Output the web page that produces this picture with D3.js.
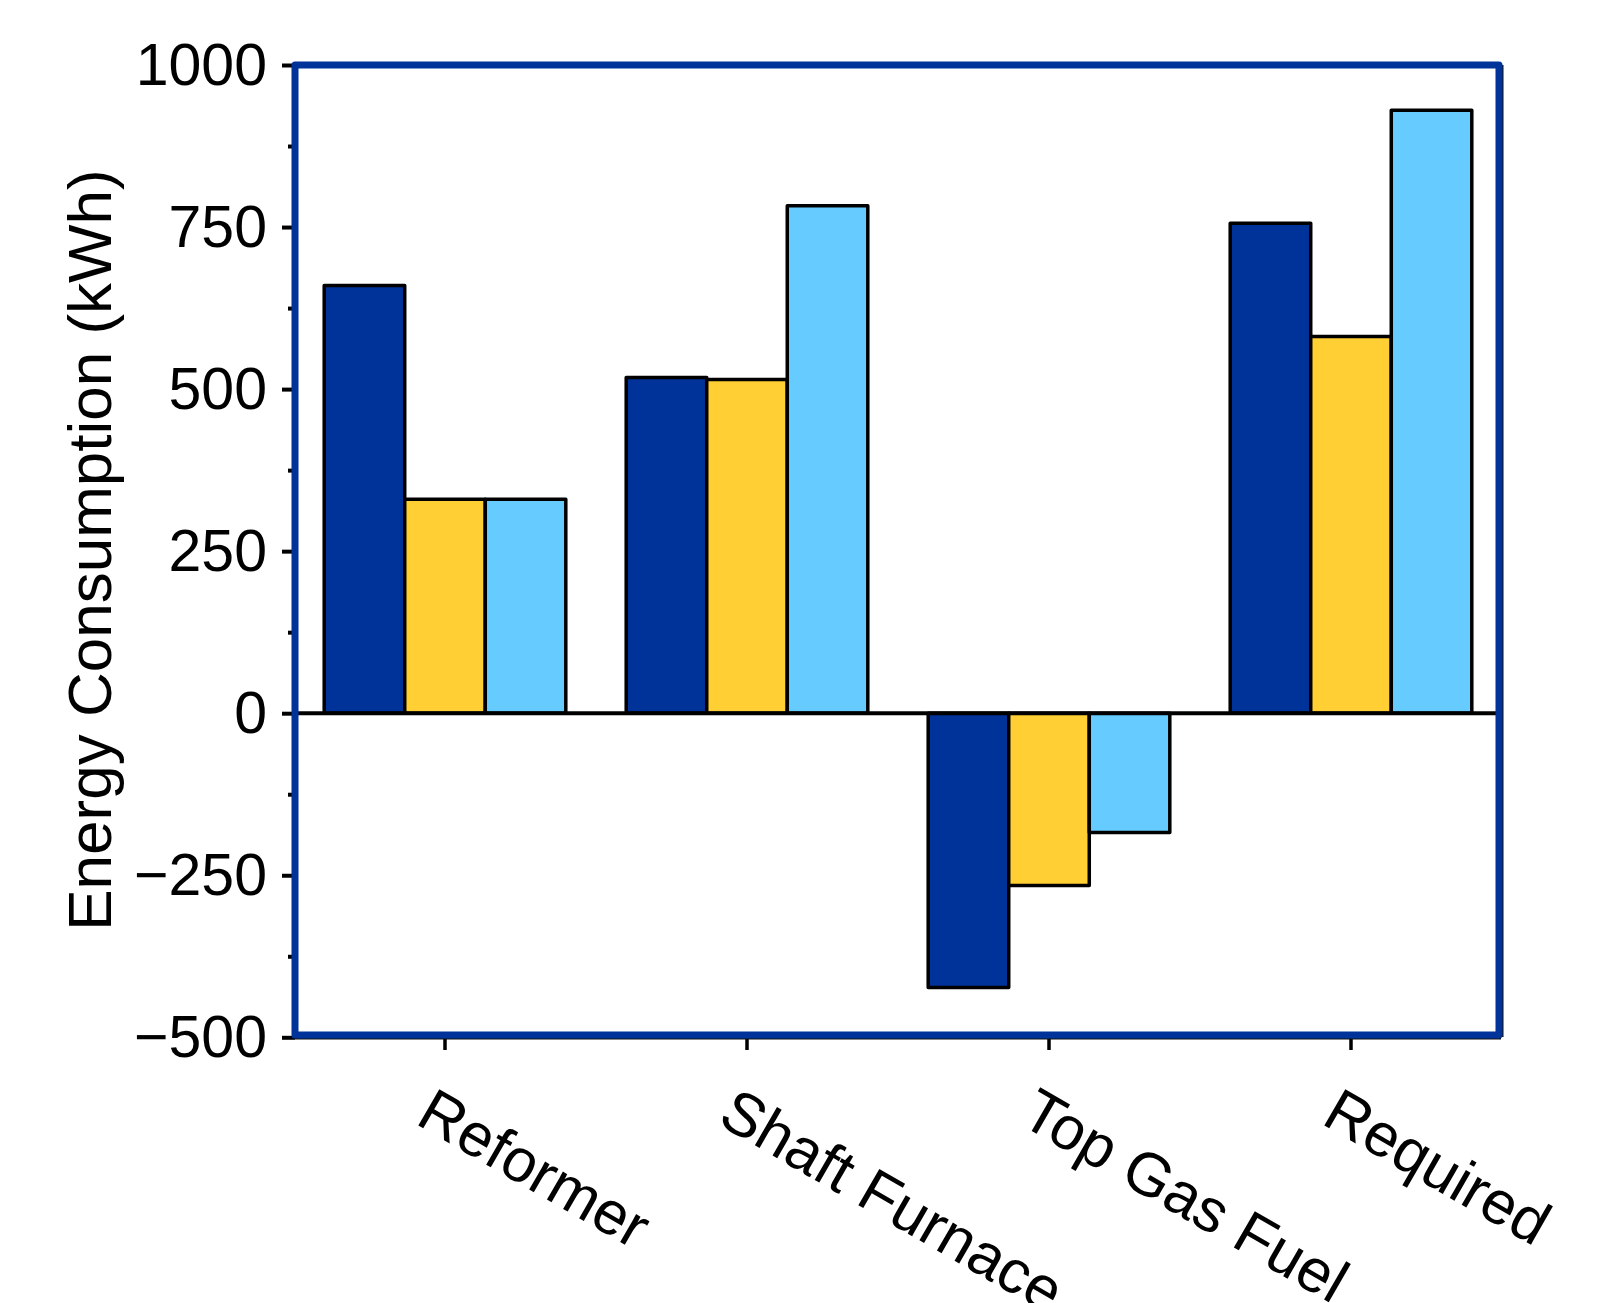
<!DOCTYPE html>
<html>
<head>
<meta charset="utf-8">
<script src="https://cdn.jsdelivr.net/npm/d3@7"></script>
<style>
  html, body { margin: 0; padding: 0; background: #fff; }
  svg { display: block; }
  text { font-family: "Liberation Sans", Arial, sans-serif; fill: #000; }
</style>
</head>
<body>
<svg id="chart" width="1609" height="1303"></svg>
<script>
const categories = ["Reformer", "Shaft Furnace", "Top Gas Fuel", "Required"];
const seriesNames = ["Case 1", "Case 2", "Case 3"];
const seriesColors = ["#003399", "#FFCF33", "#66CCFF"];
const case1 = [660, 518, -423, 756];
const case2 = [330, 515, -266, 581];
const case3 = [330, 783, -184, 930];
const majorTicks = [-500, -250, 0, 250, 500, 750, 1000];
const minorTicks = [-375, -125, 125, 375, 625, 875];
const yLabel = "Energy Consumption (kWh)";

(function () {
const series = [case1, case2, case3];

const svg = d3.select("#chart");
const pLeft = 295, pRight = 1499, pTop = 65, pBottom = 1035;

const y = d3.scaleLinear().domain([-500, 1000]).range([1037.3, 65]);
const x = d3.scaleBand().domain(categories).range([294, 1502]).paddingInner(0.2).paddingOuter(0.1);
const xs = d3.scaleBand().domain(d3.range(series.length)).range([0, x.bandwidth()]).padding(0);

// y ticks (major, minor)
const yAxisMajor = d3.axisLeft(y).tickValues(majorTicks).tickSize(13).tickPadding(15)
  .tickFormat(d3.format("d"));
const gy = svg.append("g").attr("transform", `translate(${pLeft},0)`).call(yAxisMajor);
gy.select(".domain").remove();
gy.selectAll(".tick line").attr("stroke", "#000").attr("stroke-width", 4);
gy.selectAll(".tick text").attr("font-size", 59).attr("dy", "0.33em")
  .style("font-family", '"Liberation Sans", Arial, sans-serif');

const yAxisMinor = d3.axisLeft(y).tickValues(minorTicks).tickSize(7).tickFormat("");
const gym = svg.append("g").attr("transform", `translate(${pLeft},0)`).call(yAxisMinor);
gym.select(".domain").remove();
gym.selectAll(".tick line").attr("stroke", "#000").attr("stroke-width", 4);

// x ticks
const xAxis = d3.axisBottom(x).tickSize(15).tickFormat("");
const gx = svg.append("g").attr("transform", `translate(0,${pBottom})`).call(xAxis);
gx.select(".domain").remove();
gx.selectAll(".tick line").attr("stroke", "#000").attr("stroke-width", 3.5);

// x labels rotated
svg.append("g").selectAll("text").data(categories).join("text")
  .attr("transform", d => `translate(${x(d) + x.bandwidth() / 2 - 31},1123) rotate(30)`)
  .attr("text-anchor", "start")
  .attr("font-size", 61)
  .text(d => d);

// y label
svg.append("text")
  .attr("transform", `translate(111,${(pTop + pBottom) / 2}) rotate(-90)`)
  .attr("text-anchor", "middle")
  .attr("font-size", 62)
  .text(yLabel);

// bars
const groups = svg.append("g").selectAll("g").data(categories).join("g")
  .attr("transform", d => `translate(${x(d)},0)`);
groups.selectAll("rect").data((d, i) => series.map((s, k) => ({ k, v: s[i] }))).join("rect")
  .attr("x", d => xs(d.k))
  .attr("width", xs.bandwidth())
  .attr("y", d => y(Math.max(0, d.v)))
  .attr("height", d => Math.abs(y(d.v) - y(0)))
  .attr("fill", d => seriesColors[d.k])
  .attr("stroke", "#000")
  .attr("stroke-width", 3.5)
  .attr("stroke-linejoin", "round");

// zero line
svg.append("line")
  .attr("x1", pLeft).attr("x2", pRight)
  .attr("y1", y(0)).attr("y2", y(0))
  .attr("stroke", "#000").attr("stroke-width", 4);

// black edges under frame (bottom and right)
svg.append("line").attr("x1", pLeft).attr("x2", pRight + 2)
  .attr("y1", pBottom + 2).attr("y2", pBottom + 2)
  .attr("stroke", "#111").attr("stroke-width", 5);
svg.append("line").attr("x1", pRight + 2).attr("x2", pRight + 2)
  .attr("y1", pTop).attr("y2", pBottom + 2)
  .attr("stroke", "#111").attr("stroke-width", 5);

// frame
svg.append("rect")
  .attr("x", pLeft).attr("y", pTop)
  .attr("width", pRight - pLeft).attr("height", pBottom - pTop)
  .attr("fill", "none")
  .attr("stroke", "#003399").attr("stroke-width", 7)
  .attr("stroke-linejoin", "round");
})();
</script>
</body>
</html>
